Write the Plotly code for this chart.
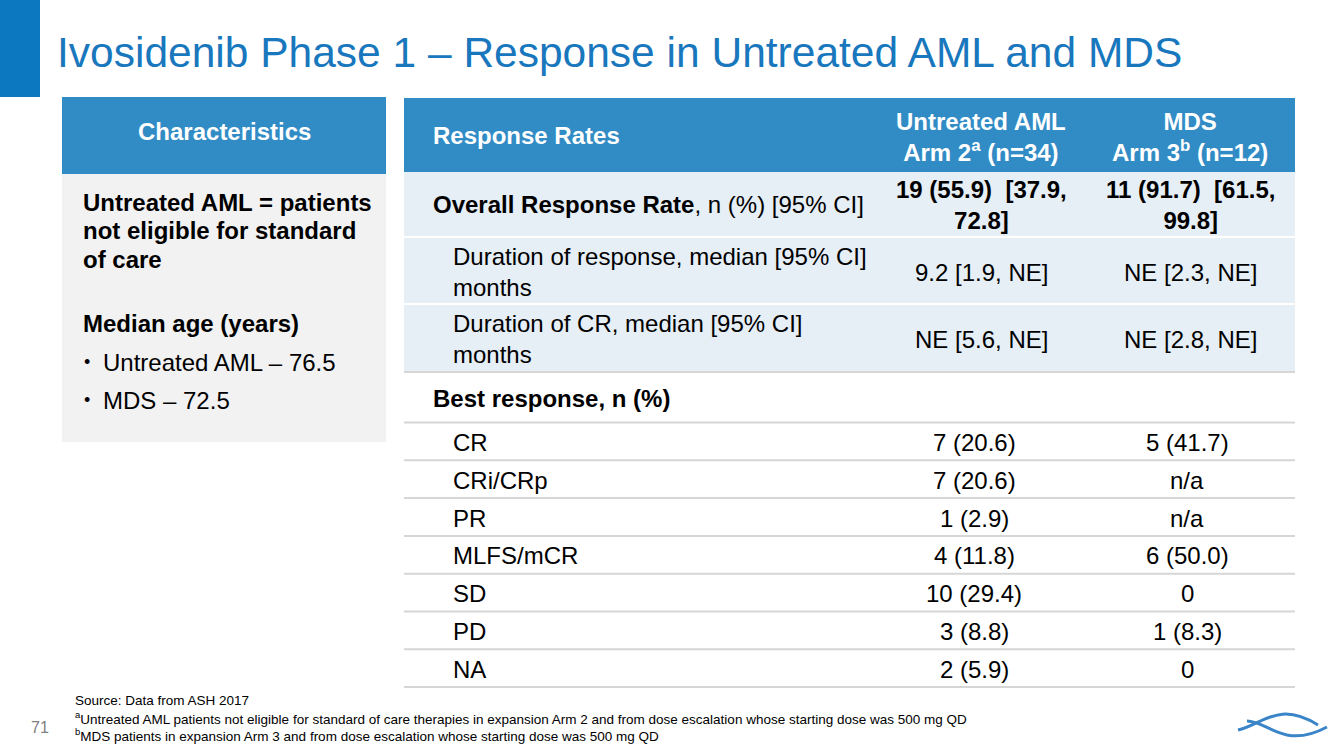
import plotly.graph_objects as go

# ---------------- data ----------------
title = "Ivosidenib Phase 1 – Response in Untreated AML and MDS"
char_header = "Characteristics"
char_lines = ["Untreated AML = patients", "not eligible for standard", "of care"]
age_header = "Median age (years)"
age_items = ["Untreated AML – 76.5", "MDS – 72.5"]

col_headers = ["Response Rates",
               "Untreated AML<br>Arm 2<sup>a</sup> (n=34)",
               "MDS<br>Arm 3<sup>b</sup> (n=12)"]
summary_labels = ["<b>Overall Response Rate</b>, n (%) [95% CI]",
                  "Duration of response, median [95% CI]<br>months",
                  "Duration of CR, median [95% CI]<br>months"]
summary_aml = ["<b>19 (55.9)\u00a0 [37.9,</b><br><b>72.8]</b>", "9.2 [1.9, NE]", "NE [5.6, NE]"]
summary_mds = ["<b>11 (91.7)\u00a0 [61.5,</b><br><b>99.8]</b>", "NE [2.3, NE]", "NE [2.8, NE]"]
best_header = "Best response, n (%)"
categories = ["CR", "CRi/CRp", "PR", "MLFS/mCR", "SD", "PD", "NA"]
aml_values = ["7 (20.6)", "7 (20.6)", "1 (2.9)", "4 (11.8)", "10 (29.4)", "3 (8.8)", "2 (5.9)"]
mds_values = ["5 (41.7)", "n/a", "n/a", "6 (50.0)", "0", "1 (8.3)", "0"]
footnotes = ["Source: Data from ASH 2017",
             "<sup>a</sup>Untreated AML patients not eligible for standard of care therapies in expansion Arm 2 and from dose escalation whose starting dose was 500 mg QD",
             "<sup>b</sup>MDS patients in expansion Arm 3 and from dose escalation whose starting dose was 500 mg QD"]
page_number = "71"

# ---------------- style / layout ----------------
FONT = "Liberation Sans, Arial, sans-serif"
HEAD_BLUE = "#318cc5"
DARK_BLUE = "#0b78c0"
TITLE_BLUE = "#1877bd"
ROW_BLUE = "#e6eef6"
PANEL_GREY = "#f2f2f2"
LINE_GREY = "#d6d6d6"
FS = 24

W, H = 1344, 756
fig = go.Figure()
fig.add_trace(go.Scatter(x=[], y=[], showlegend=False))

shapes = []
ann = []

def rect(x0, y0, x1, y1, color):
    shapes.append(dict(type="rect", xref="x", yref="y", x0=x0, y0=y0, x1=x1, y1=y1,
                       fillcolor=color, line=dict(width=0), layer="below"))

def hline(x0, x1, y, color, w=2):
    shapes.append(dict(type="line", xref="x", yref="y", x0=x0, x1=x1, y0=y, y1=y,
                       line=dict(color=color, width=w), layer="above"))

def text(x, y, s, size=FS, color="#000000", xa="left", bold=False, align="left"):
    if bold:
        s = "<b>" + s.replace("<br>", "</b><br><b>") + "</b>"
    if xa == "left":
        x = x - 2  # compensate annotation padding
    ann.append(dict(x=x, y=y, xref="x", yref="y", text=s, showarrow=False,
                    xanchor=xa, yanchor="middle", align=align,
                    font=dict(family=FONT, size=size, color=color)))

# title bar and title
rect(0, 0, 40, 97, DARK_BLUE)
text(57, 52, title, size=42.5, color=TITLE_BLUE)

# left panel
rect(62, 97, 386, 174, HEAD_BLUE)
rect(62, 174, 386, 442, PANEL_GREY)
text(224, 131, char_header, color="white", xa="center", bold=True)
for i, s in enumerate(char_lines):
    text(83, 202 + i * 28.5, s, bold=True)
text(83, 323, age_header, bold=True)
for i, s in enumerate(age_items):
    text(84, 362 + i * 38, "•", size=18)
    text(103, 362 + i * 38, s)

# right table
TX0, TX1 = 404, 1295
C1, C1I = 433, 453
C2U, C3U = 981, 1190
C2L, C3L = 974, 1187
rect(TX0, 98, TX1, 172, HEAD_BLUE)
text(C1, 135, col_headers[0], color="white", bold=True)
text(C2U, 137, col_headers[1], color="white", xa="center", bold=True, align="center")
text(C3U, 137, col_headers[2], color="white", xa="center", bold=True, align="center")

summary_edges = [172, 237, 304, 371]
for i in range(3):
    y0, y1 = summary_edges[i], summary_edges[i + 1]
    rect(TX0, y0, TX1, y1, ROW_BLUE)
    yc = (y0 + y1) / 2
    text(C1 if i == 0 else C1I, yc + (0 if i == 0 else 1), summary_labels[i])
    text(C2U, yc + (0 if i == 0 else 2), summary_aml[i], xa="center", align="center")
    text(C3U, yc + (0 if i == 0 else 2), summary_mds[i], xa="center", align="center")
    if i > 0:
        hline(TX0, TX1, y0, "white", 2)

hline(TX0, TX1, 372, LINE_GREY, 2)
text(C1, 398, best_header, bold=True)
row_top, row_h = 422.5, 37.8
hline(TX0, TX1, row_top, LINE_GREY, 2)
for i, cat in enumerate(categories):
    y0 = row_top + i * row_h
    yc = y0 + row_h / 2 + 1
    text(C1I, yc, cat)
    text(C2L, yc, aml_values[i], xa="center")
    text(C3L, yc, mds_values[i], xa="center")
    hline(TX0, TX1, y0 + row_h, LINE_GREY, 2)

# footnotes
for i, s in enumerate(footnotes):
    text(75, 700 + i * 17.5, s, size=13.5)
text(40, 727, page_number, size=16, color="#808080", xa="center")

# logo
LOGO = "#3a85c7"
shapes.append(dict(type="path", xref="x", yref="y",
                   path="M 1238,730 C 1262,725 1278,700 1318,725",
                   line=dict(color=LOGO, width=3)))
shapes.append(dict(type="path", xref="x", yref="y",
                   path="M 1247,721 C 1268,721 1284,750 1327,727",
                   line=dict(color=LOGO, width=3)))

fig.update_layout(
    width=W, height=H, margin=dict(l=0, r=0, t=0, b=0),
    paper_bgcolor="white", plot_bgcolor="white",
    xaxis=dict(range=[0, W], visible=False, fixedrange=True),
    yaxis=dict(range=[H, 0], visible=False, fixedrange=True),
    shapes=shapes, annotations=ann, showlegend=False,
)
fig.write_html("out.html", config={"displayModeBar": False},
               post_script="document.body.style.margin='0px';document.body.style.overflow='hidden';")
